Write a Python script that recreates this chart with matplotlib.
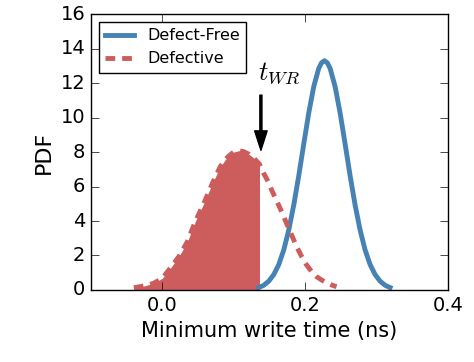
import numpy as np
import matplotlib
matplotlib.use('Agg')
import matplotlib.pyplot as plt

########################################################################################
'DATA (read from the reference picture)'

# Defect-free cells: minimum write time (ns) and PDF
free_t = [0.135, 0.142, 0.149, 0.156, 0.163, 0.170, 0.177, 0.184, 0.191, 0.198, 0.205,
          0.212, 0.219, 0.223, 0.227, 0.231, 0.235, 0.242, 0.249, 0.256, 0.263, 0.270,
          0.277, 0.284, 0.291, 0.298, 0.305, 0.312, 0.319]
free_pdf = [0.14, 0.27, 0.51, 0.89, 1.47, 2.32, 3.47, 4.92, 6.62, 8.46, 10.26,
            11.79, 12.85, 13.18, 13.3, 13.18, 12.85, 11.79, 10.26, 8.46, 6.62, 4.92,
            3.47, 2.32, 1.47, 0.89, 0.51, 0.27, 0.14]

# Defective cells
def_t = [-0.040, -0.026, -0.012, 0.000, 0.011, 0.023, 0.035, 0.046, 0.058, 0.070, 0.081,
         0.088, 0.093, 0.100, 0.107, 0.114, 0.121, 0.128, 0.136, 0.142, 0.148, 0.153,
         0.159, 0.165, 0.171, 0.177, 0.183, 0.188, 0.195, 0.202, 0.209, 0.216, 0.223,
         0.230, 0.237, 0.244]
def_pdf = [0.13, 0.23, 0.39, 0.68, 1.26, 1.93, 2.8, 3.96, 5.02, 6.18, 7.15,
           7.55, 7.77, 8.0, 8.08, 8.02, 7.88, 7.65, 7.3, 6.76, 6.3, 5.8,
           5.27, 4.73, 4.15, 3.57, 3.0, 2.51, 1.95, 1.45, 1.07, 0.77, 0.58,
           0.42, 0.29, 0.19]

t_wr = 0.136

########################################################################################
'PLOT'

plt.style.use('classic')
fig = plt.figure(figsize=(4.74, 3.62), dpi=100)
ax = fig.add_axes([0.192, 0.199, 0.753, 0.762])

blue = '#4682b4'
red = '#cd5c5c'

ax.plot(free_t, free_pdf, color=blue, lw=3.5, label='Defect-Free',
        solid_joinstyle='round')
ax.plot(def_t, def_pdf, color=red, lw=3.5, ls='--', dashes=(7, 5), label='Defective')

dt = np.array(def_t)
dp = np.array(def_pdf)
ax.fill_between(dt, 0, dp, where=dt <= t_wr, color=red, lw=0)

ax.annotate('', xy=(0.138, 8.1), xytext=(0.138, 11.3),
            arrowprops=dict(facecolor='black', edgecolor='black', width=1.5,
                            headwidth=9, headlength=14))
ax.text(0.134, 12.6, '$t_{WR}$', fontsize=19, ha='left', va='center')

ax.set_xlim(-0.1, 0.4)
ax.set_ylim(0, 16)
ax.set_xticks([0.0, 0.2, 0.4])
ax.set_yticks(range(0, 17, 2))
ax.tick_params(labelsize=14, direction='in', length=6)
ax.set_xlabel('Minimum write time (ns)', fontsize=15)
ax.set_ylabel('PDF', fontsize=16)

leg = ax.legend(loc='upper left', fontsize=11.5, handlelength=1.8, numpoints=1,
                borderaxespad=0.5, frameon=True, fancybox=False)
leg.get_frame().set_edgecolor('black')

fig.savefig('out.png', dpi=100, facecolor='white')
